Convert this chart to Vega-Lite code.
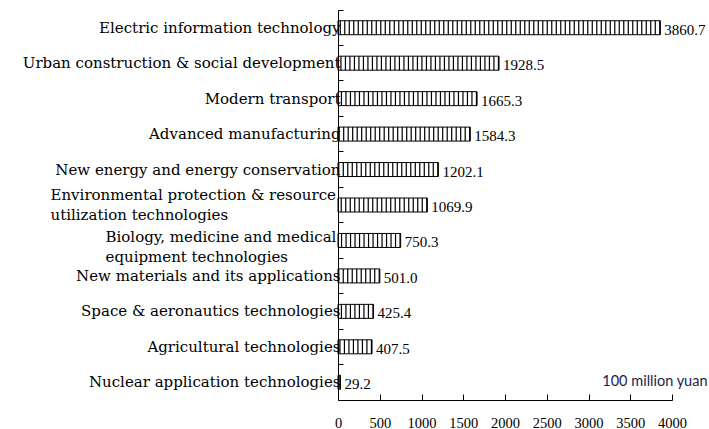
{
  "$schema": "https://vega.github.io/schema/vega-lite/v6.json",
  "width": 334,
  "height": 390,
  "autosize": {"type": "none"},
  "padding": {"left": 338, "top": 10, "right": 37, "bottom": 29},
  "background": "white",
  "config": {"view": {"stroke": null}},
  "data": {
    "values": [
      {"field": "Electric information technology", "value": 3860.7},
      {"field": "Urban construction & social development", "value": 1928.5},
      {"field": "Modern transport", "value": 1665.3},
      {"field": "Advanced manufacturing", "value": 1584.3},
      {"field": "New energy and energy conservation", "value": 1202.1},
      {"field": "Environmental protection & resource utilization technologies", "value": 1069.9},
      {"field": "Biology, medicine and medical equipment technologies", "value": 750.3},
      {"field": "New materials and its applications", "value": 501.0},
      {"field": "Space & aeronautics technologies", "value": 425.4},
      {"field": "Agricultural technologies", "value": 407.5},
      {"field": "Nuclear application technologies", "value": 29.2}
    ]
  },
  "encoding": {
    "y": {
      "field": "field",
      "type": "nominal",
      "sort": null,
      "scale": {"paddingInner": 0, "paddingOuter": 0},
      "axis": {
        "title": null,
        "bandPosition": 0,
        "tickSize": -5,
        "tickColor": "black",
        "domainColor": "black",
        "labelColor": "black",
        "labelFont": "DejaVu Serif",
        "labelFontSize": 15,
        "labelLimit": 400,
        "labelLineHeight": 20,
        "labelAlign": {
          "condition": {
            "test": "datum.value == 'Environmental protection & resource utilization technologies' || datum.value == 'Biology, medicine and medical equipment technologies'",
            "value": "left"
          },
          "value": "right"
        },
        "labelPadding": {
          "condition": [
            {"test": "datum.value == 'Environmental protection & resource utilization technologies'", "value": 293},
            {"test": "datum.value == 'Biology, medicine and medical equipment technologies'", "value": 238}
          ],
          "value": 3
        },
        "labelOffset": {
          "condition": [
            {"test": "datum.value == 'Environmental protection & resource utilization technologies'", "value": -10},
            {"test": "datum.value == 'Biology, medicine and medical equipment technologies'", "value": -3.5}
          ],
          "value": 0
        },
        "labelExpr": "datum.value == 'Environmental protection & resource utilization technologies' ? ['Environmental protection & resource', 'utilization technologies'] : datum.value == 'Biology, medicine and medical equipment technologies' ? ['Biology, medicine and medical', 'equipment technologies'] : datum.value"
      }
    }
  },
  "layer": [
    {
      "mark": {"type": "rule", "color": "black", "strokeWidth": 14, "strokeDash": [1.2, 3.3], "strokeCap": "butt"},
      "encoding": {
        "x": {
          "field": "value",
          "type": "quantitative",
          "scale": {"domain": [0, 4000], "nice": false},
          "axis": {
            "values": [0, 500, 1000, 1500, 2000, 2500, 3000, 3500, 4000],
            "format": "d",
            "grid": false,
            "tickSize": -6,
            "tickColor": "black",
            "domainColor": "black",
            "labelColor": "black",
            "labelFont": "Liberation Serif",
            "labelFontSize": 14.5,
            "labelPadding": 22,
            "labelFlush": false,
            "title": "100 million yuan",
            "titleFont": "Lato",
            "titleFontSize": 14.5,
            "titleFontWeight": "normal",
            "titleColor": "#1c1c4a",
            "titleAnchor": null,
            "titleAlign": "right",
            "titleBaseline": "alphabetic",
            "titleX": 369,
            "titleY": -15
          }
        },
        "x2": {"datum": 0}
      }
    },
    {
      "mark": {"type": "bar", "fill": null, "fillOpacity": 0, "stroke": "black", "strokeWidth": 1, "height": 14},
      "encoding": {
        "x": {"field": "value", "type": "quantitative"}
      }
    },
    {
      "mark": {"type": "text", "align": "left", "baseline": "middle", "dx": 4, "dy": 2, "font": "Liberation Serif", "fontSize": 15, "color": "black"},
      "encoding": {
        "x": {"field": "value", "type": "quantitative"},
        "text": {"field": "value", "type": "quantitative", "format": ".1f"}
      }
    }
  ]
}
